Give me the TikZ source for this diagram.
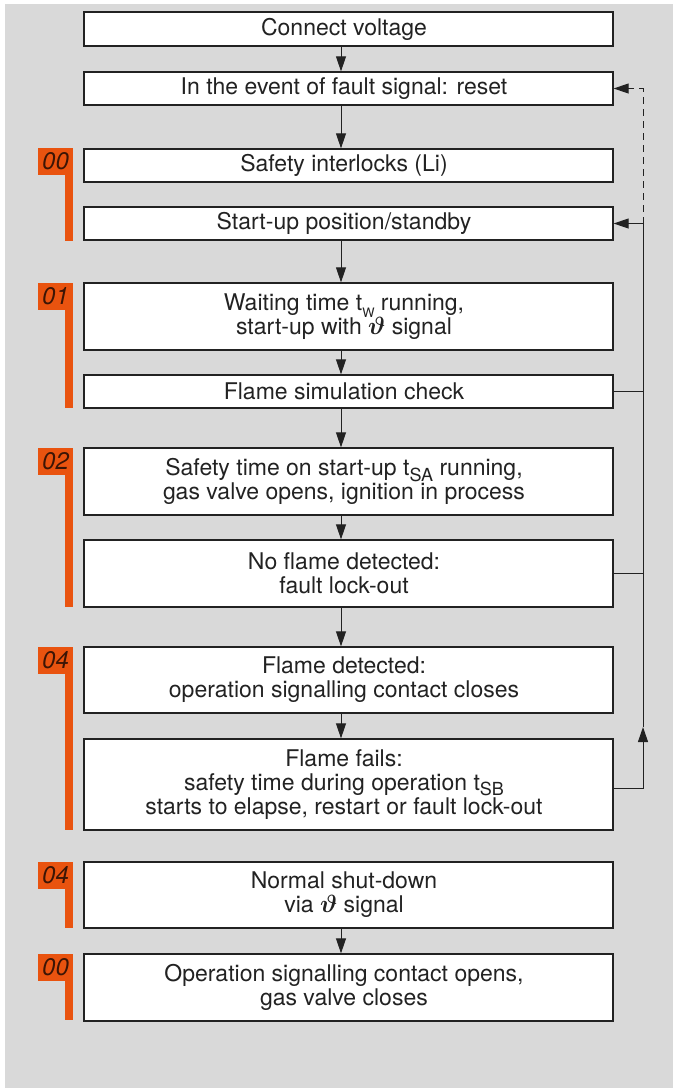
\documentclass[tikz,border=0pt]{standalone}
\usepackage{fontspec}
\usepackage{bm}
\setmainfont{TeX Gyre Heros}
\usetikzlibrary{arrows.meta}
\definecolor{bg}{HTML}{D9D9D9}
\definecolor{org}{HTML}{E9530F}
\definecolor{ink}{HTML}{222222}
\definecolor{dig}{HTML}{3C1505}
\newcommand{\sbs}[1]{\raisebox{-0.45ex}[0pt][0pt]{\fontsize{18}{18}\selectfont #1}}
\newcommand{\sbw}[1]{\raisebox{-0.6ex}[0pt][0pt]{\fontsize{13}{13}\selectfont #1}}
\newcommand{\thsym}{$\bm{\vartheta}$}
\newcommand{\mymark}[4]{%
  \fill[org] (38,#2) rectangle (73,#2+27);
  \fill[org] (65,#2+27) rectangle (73,#3);
  \node[digit] (#1) at (55.5,#2+13.5) {#4};}
\begin{document}
\begin{tikzpicture}[x=1pt,y=-1pt,
  box/.style={draw=ink, line width=1.3pt, fill=white, minimum width=529pt,
    inner sep=0pt, align=center, font=\fontsize{23}{24}\selectfont, text=ink,
    xshift=0pt},
  txt/.style={align=center, font=\fontsize{23}{24}\selectfont, text=ink, inner sep=0pt, xshift=-4.5pt},
  arr/.style={-{Triangle[length=15pt,width=10pt]}, line width=1pt, draw=ink},
  conn/.style={line width=1pt, draw=ink},
  digit/.style={font=\fontsize{24}{24}\selectfont\itshape, text=dig, inner sep=0pt}]
\useasboundingbox (0,0) rectangle (673,1088);
\fill[bg] (5,4) rectangle (673,1088);

\node[box, minimum height=34pt] (b1) at (348.5,29) {};
\node[txt] (t1) at (b1) {Connect voltage};
\node[box, minimum height=33pt] (b2) at (348.5,88.5) {};
\node[txt] (t2) at (b2) {In the event of fault signal: reset};
\node[box, minimum height=33pt] (b3) at (348.5,165.5) {};
\node[txt] (t3) at (b3) {Safety interlocks (Li)};
\node[box, minimum height=33pt] (b4) at (348.5,223.5) {};
\node[txt] (t4) at (b4) {Start-up position/standby};
\node[box, minimum height=67pt] (b5) at (348.5,316.5) {};
\node[txt] (t5) at (b5) {Waiting time t\sbw{W} running,\\ start-up with \thsym{} signal};
\node[box, minimum height=33pt] (b6) at (348.5,391.5) {};
\node[txt] (t6) at (b6) {Flame simulation check};
\node[box, minimum height=67pt] (b7) at (348.5,481.5) {};
\node[txt] (t7) at (b7) {Safety time on start-up t\sbs{SA} running,\\ gas valve opens, ignition in process};
\node[box, minimum height=67pt] (b8) at (348.5,573.5) {};
\node[txt] (t8) at (b8) {No flame detected:\\ fault lock-out};
\node[box, minimum height=66pt] (b9) at (348.5,680) {};
\node[txt] (t9) at (b9) {Flame detected:\\ operation signalling contact closes};
\node[box, minimum height=91pt] (b10) at (348.5,784.5) {};
\node[txt] (t10) at (b10) {Flame fails:\\ safety time during operation t\sbs{SB}\\ starts to elapse, restart or fault lock-out};
\node[box, minimum height=66pt] (b11) at (348.5,895) {};
\node[txt] (t11) at (b11) {Normal shut-down\\ via \thsym{} signal};
\node[box, minimum height=67pt] (b12) at (348.5,987.5) {};
\node[txt] (t12) at (b12) {Operation signalling contact opens,\\ gas valve closes};

\coordinate (A) at (341,0);
\coordinate (R) at (643,0);
\coordinate (up) at (643,727);

\draw[arr] (b1.south -| A) -- (b2.north -| A);
\draw[arr] (b2.south -| A) -- (b3.north -| A);
\draw[arr] (b4.south -| A) -- (b5.north -| A);
\draw[arr] (b5.south -| A) -- (b6.north -| A);
\draw[arr] (b6.south -| A) -- (b7.north -| A);
\draw[arr] (b7.south -| A) -- (b8.north -| A);
\draw[arr] (b8.south -| A) -- (b9.north -| A);
\draw[arr] (b9.south -| A) -- (b10.north -| A);
\draw[arr] (b11.south -| A) -- (b12.north -| A);

\draw[arr, dash pattern=on 7pt off 5pt] (b4.east -| R) -- (b2.east -| R) -- (b2.east);
\draw[conn] (b6.east) -- (b6.east -| R);
\draw[conn] (b8.east) -- (b8.east -| R);
\draw[arr] ([yshift=-3.5pt]b10.east) -- ([yshift=-3.5pt]b10.east -| R) -- (up);
\draw[arr] (up) -- (b4.east -| R) -- (b4.east);

\mymark{m1}{148}{241}{00}
\mymark{m2}{283}{408}{01}
\mymark{m3}{448}{607}{02}
\mymark{m4}{647}{830}{04}
\mymark{m5}{862}{928}{04}
\mymark{m6}{954}{1020}{00}
\end{tikzpicture}
\end{document}
